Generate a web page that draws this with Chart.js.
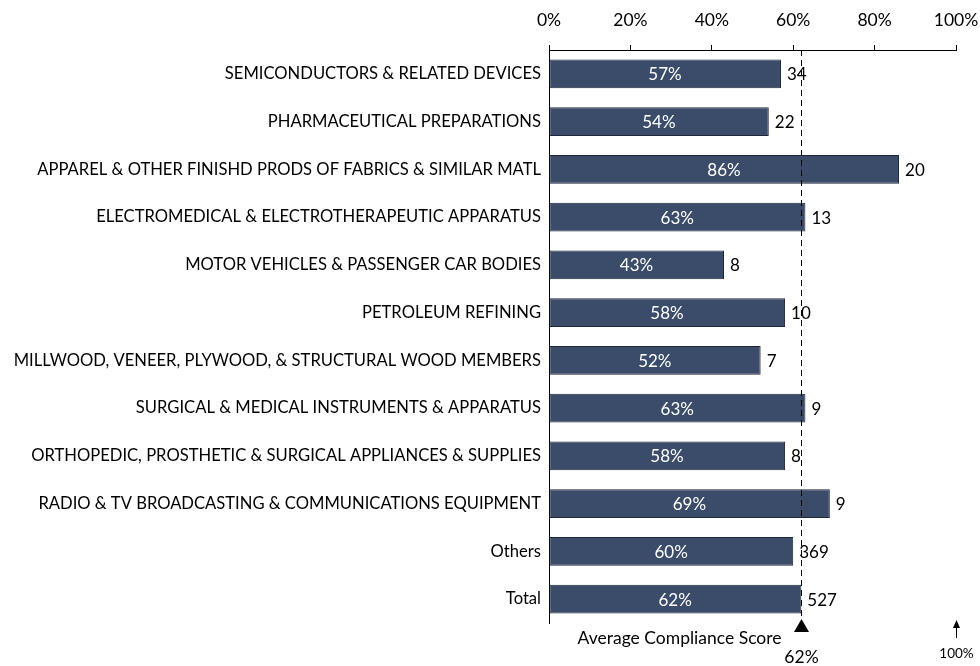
<!DOCTYPE html>
<html>
<head>
<meta charset="utf-8">
<script src="https://cdn.jsdelivr.net/npm/chart.js@4"></script>
<style>
  html, body { margin: 0; padding: 0; background: #fff; }
  #wrap { width: 980px; height: 666px; position: relative; }
</style>
</head>
<body>
<div id="wrap"><canvas id="chart"></canvas></div>
<script>
const categories = [
  'SEMICONDUCTORS & RELATED DEVICES',
  'PHARMACEUTICAL PREPARATIONS',
  'APPAREL & OTHER FINISHD PRODS OF FABRICS & SIMILAR MATL',
  'ELECTROMEDICAL & ELECTROTHERAPEUTIC APPARATUS',
  'MOTOR VEHICLES & PASSENGER CAR BODIES',
  'PETROLEUM REFINING',
  'MILLWOOD, VENEER, PLYWOOD, & STRUCTURAL WOOD MEMBERS',
  'SURGICAL & MEDICAL INSTRUMENTS & APPARATUS',
  'ORTHOPEDIC, PROSTHETIC & SURGICAL APPLIANCES & SUPPLIES',
  'RADIO & TV BROADCASTING & COMMUNICATIONS EQUIPMENT',
  'Others',
  'Total'
];
const scores = [57, 54, 86, 63, 43, 58, 52, 63, 58, 69, 60, 62];
const counts = [34, 22, 20, 13, 8, 10, 7, 9, 8, 9, 369, 527];
const average = 62;
const xTicks = [0, 20, 40, 60, 80, 100];

const FONT = 'Lato, "Open Sans", sans-serif';

// white % inside the bar, count after the bar end
const barLabels = {
  id: 'barLabels',
  afterDatasetsDraw(chart) {
    const ctx = chart.ctx;
    const meta = chart.getDatasetMeta(0);
    const left = chart.scales.x.getPixelForValue(0);
    ctx.save();
    ctx.font = '17px ' + FONT;
    ctx.textBaseline = 'middle';
    meta.data.forEach((bar, i) => {
      ctx.fillStyle = '#ffffff';
      ctx.textAlign = 'center';
      ctx.fillText(scores[i] + '%', (left + bar.x) / 2, bar.y + 1);
      ctx.fillStyle = '#000000';
      ctx.textAlign = 'left';
      ctx.fillText(String(counts[i]), bar.x + 6, bar.y + 1);
    });
    ctx.restore();
  }
};

// dashed average line with the notes below the plot
const averageLine = {
  id: 'averageLine',
  afterDatasetsDraw(chart) {
    const ctx = chart.ctx;
    const area = chart.chartArea;
    const x = Math.round(chart.scales.x.getPixelForValue(average)) + 0.5;
    const xMax = Math.round(chart.scales.x.getPixelForValue(100)) + 0.5;
    ctx.save();
    ctx.strokeStyle = '#000';
    ctx.lineWidth = 1;
    ctx.setLineDash([6, 4]);
    ctx.beginPath();
    ctx.moveTo(x, area.top);
    ctx.lineTo(x, area.bottom - 4);
    ctx.stroke();
    ctx.setLineDash([]);

    // triangle marker
    ctx.fillStyle = '#000';
    ctx.beginPath();
    ctx.moveTo(x, area.bottom - 4);
    ctx.lineTo(x - 7.5, area.bottom + 9);
    ctx.lineTo(x + 7.5, area.bottom + 9);
    ctx.closePath();
    ctx.fill();

    ctx.font = '17.5px ' + FONT;
    ctx.textBaseline = 'middle';
    ctx.textAlign = 'right';
    ctx.fillText('Average Compliance Score', x - 20, area.bottom + 15);
    ctx.textAlign = 'center';
    ctx.fillText(average + '%', x, area.bottom + 34);

    // arrow at 100%
    ctx.beginPath();
    ctx.moveTo(xMax, area.bottom + 15);
    ctx.lineTo(xMax, area.bottom + 2);
    ctx.stroke();
    ctx.beginPath();
    ctx.moveTo(xMax, area.bottom - 3);
    ctx.lineTo(xMax - 3.5, area.bottom + 5);
    ctx.lineTo(xMax + 3.5, area.bottom + 5);
    ctx.closePath();
    ctx.fill();
    ctx.font = '13.5px ' + FONT;
    ctx.fillText('100%', xMax, area.bottom + 31);
    ctx.restore();
  }
};

new Chart(document.getElementById('chart'), {
  type: 'bar',
  data: {
    labels: categories,
    datasets: [{
      data: scores,
      backgroundColor: '#3B4C6B',
      borderColor: '#1E2638',
      borderWidth: 1,
      borderSkipped: false,
      categoryPercentage: 1,
      barPercentage: 0.6
    }]
  },
  options: {
    indexAxis: 'y',
    responsive: true,
    maintainAspectRatio: false,
    animation: false,
    layout: { padding: { top: 0, right: 24, bottom: 43, left: 0 } },
    plugins: {
      legend: { display: false },
      tooltip: { enabled: false }
    },
    scales: {
      x: {
        position: 'top',
        min: 0,
        max: 100,
        afterBuildTicks(scale) {
          scale.ticks = xTicks.map(v => ({ value: v }));
        },
        afterFit(scale) {
          scale.height = 50;
          scale.paddingLeft = 0;
          scale.paddingRight = 0;
        },
        grid: { display: true, drawOnChartArea: false, drawTicks: true, tickLength: 5, color: '#000' },
        border: { display: true, color: '#000', width: 1 },
        ticks: {
          color: '#000',
          padding: 14,
          font: { family: FONT, size: 17.5 },
          callback: v => v + '%'
        }
      },
      y: {
        afterFit(scale) { scale.width = 549; },
        grid: { display: false, drawTicks: false },
        border: { display: true, color: '#000', width: 1 },
        ticks: {
          color: '#000',
          padding: 8,
          font: { family: FONT, size: 16.6 }
        }
      }
    }
  },
  plugins: [barLabels, averageLine]
});
</script>
</body>
</html>
